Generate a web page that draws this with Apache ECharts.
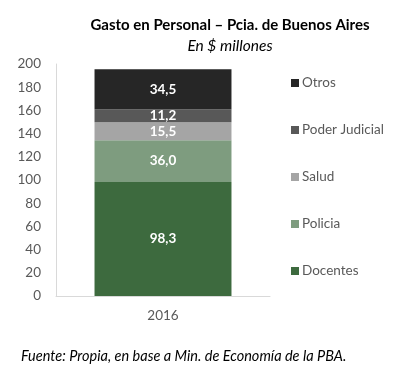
<!DOCTYPE html>
<html><head><meta charset="utf-8">
<script src="https://cdn.jsdelivr.net/npm/echarts@6/dist/echarts.min.js"></script>
<style>html,body{margin:0;padding:0;background:#fff}#c{width:409px;height:374px}</style>
</head><body><div id="c"></div>
<script>
const categories = ['2016'];
const seriesNames = ['Docentes', 'Policia', 'Salud', 'Poder Judicial', 'Otros'];
const docentes = [98.3];
const policia = [36.0];
const salud = [15.5];
const poderJudicial = [11.2];
const otros = [34.5];
const yTicks = [0, 20, 40, 60, 80, 100, 120, 140, 160, 180, 200];

const colors = ['#3d6a3e', '#7e9c7f', '#a5a5a5', '#585858', '#262626'];
const values = [docentes, policia, salud, poderJudicial, otros];
const font = 'Lato, "Open Sans", sans-serif';

const chart = echarts.init(document.getElementById('c'), null, {renderer: 'canvas'});
chart.setOption({
  animation: false,
  textStyle: {fontFamily: font},
  title: [
    {text: 'Gasto en Personal – Pcia. de Buenos Aires', left: 225, top: 13, textAlign: 'center',
     textStyle: {fontFamily: font, fontSize: 15, fontWeight: 'bold', color: '#000'}},
    {text: 'En $ millones', left: 225, top: 33, textAlign: 'center',
     textStyle: {fontFamily: font, fontSize: 15.5, fontWeight: 'normal', fontStyle: 'italic', color: '#000'}},
    {text: 'Fuente: Propia, en base a Min. de Economía de la PBA.', left: 16, top: 344,
     textStyle: {fontFamily: font, fontSize: 14.5, fontWeight: 'normal', fontStyle: 'italic', color: '#000'}}
  ],
  legend: {
    orient: 'vertical', left: 286, top: 71, itemGap: 33, itemWidth: 8, itemHeight: 8,
    icon: 'rect',
    data: ['Otros', 'Poder Judicial', 'Salud', 'Policia', 'Docentes'],
    textStyle: {fontFamily: font, fontSize: 13.5, color: '#595959', padding: [0, 0, 0, -2]}
  },
  grid: {left: 56, right: 139, top: 64, bottom: 78},
  xAxis: {
    type: 'category', data: categories,
    axisLine: {lineStyle: {color: '#d9d9d9'}}, axisTick: {show: false},
    axisLabel: {fontFamily: font, fontSize: 13.5, color: '#595959', margin: 13}
  },
  yAxis: {
    type: 'value', min: 0, max: 200, interval: 20,
    axisLine: {show: true, lineStyle: {color: '#d9d9d9'}}, axisTick: {show: false},
    splitLine: {show: false},
    axisLabel: {fontFamily: font, fontSize: 13.5, color: '#595959', margin: 15,
      formatter: v => yTicks.includes(v) ? String(v) : ''}
  },
  series: seriesNames.map((n, i) => ({
    name: n, type: 'bar', stack: 'total', barWidth: '64%',
    data: values[i],
    itemStyle: {color: colors[i]},
    label: {show: true, position: 'inside', color: '#fff', fontFamily: font, fontSize: 13.5, fontWeight: 'bold',
      formatter: p => p.value.toFixed(1).replace('.', ',')}
  }))
});
</script></body></html>
